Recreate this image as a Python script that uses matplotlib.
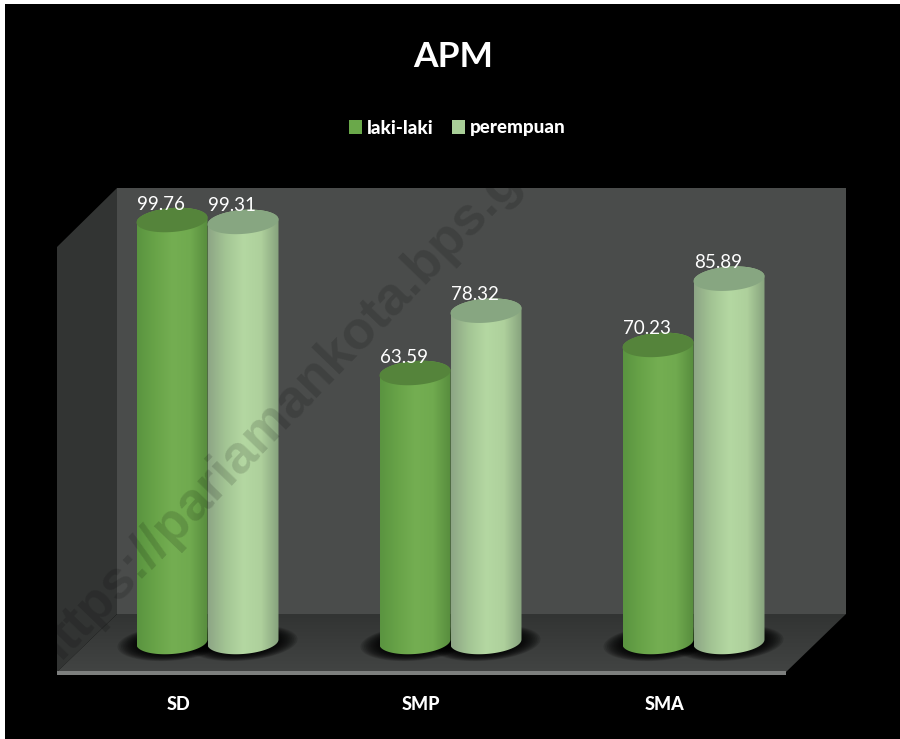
"""APM cylinder chart, black background, fake 3D box drawn by hand."""
import numpy as np
import matplotlib
matplotlib.use("Agg")
import matplotlib.pyplot as plt
from matplotlib.patches import Polygon, Patch, Rectangle
from matplotlib.colors import LinearSegmentedColormap

categories = ["SD", "SMP", "SMA"]
laki = [99.76, 63.59, 70.23]
perempuan = [99.31, 78.32, 85.89]
series_names = ["laki-laki", "perempuan"]
title = "APM"
watermark = "https://pariamankota.bps.go.id"

W, H = 900, 739
FONT = "Lato"
GROUP_PX, ZERO_PX, UNIT_PX = 243.0, 642.0, 4.23   # category spacing, y of value 0, px per unit
X0_PX = 207.5
RX, RY, TILT = 35.5, 12.0, -0.07

fig = plt.figure(figsize=(W / 100, H / 100), dpi=100, facecolor="white")

# value axes: category index on x, percent on y
ax = fig.add_axes([0, 0, 1, 1], zorder=3)
ax.set_xlim(-X0_PX / GROUP_PX, (W - X0_PX) / GROUP_PX)
ax.set_ylim(-(H - ZERO_PX) / UNIT_PX, ZERO_PX / UNIT_PX)
ax.set_axis_off()

# overlay in image pixels for the box and cylinders
px = fig.add_axes([0, 0, 1, 1], zorder=2)
px.set_xlim(0, W); px.set_ylim(H, 0)
px.set_axis_off()


def to_px(x, v):
    xp, yp = ax.transData.transform((x, v))
    return xp, H - yp


def ell(cx, cy, rx=RX, ry=RY, n=80, a=0, b=2 * np.pi):
    t = np.linspace(a, b, n)
    ex = rx * np.cos(t)
    return np.column_stack([cx + ex, cy + ry * np.sin(t) + TILT * ex])


# image has a thin white edge on the left and top
px.add_patch(Rectangle((5, 4), W, H, fc="black", ec="none", zorder=0))

# box: back wall, left wall, floor, front lip
px.add_patch(Polygon([(117, 188), (846, 188), (846, 614), (117, 614)], fc="#4a4c4b", ec="none"))
px.add_patch(Polygon([(57, 247), (117, 188), (117, 614), (57, 672)], fc="#323433", ec="none"))
floor = Polygon([(57, 672), (117, 614), (846, 614), (786, 672)], fc="none", ec="none")
px.add_patch(floor)
cm_floor = LinearSegmentedColormap.from_list("f", ["#323433", "#424443"])
fl = px.imshow(np.linspace(0, 1, 64)[:, None], cmap=cm_floor, extent=[57, 846, 672, 614], aspect="auto", zorder=1)
fl.set_clip_path(floor)
px.add_patch(Polygon([(57, 671), (786, 671), (786, 675), (57, 675)], fc="#7d7f7e", ec="none", zorder=1.5))

cm_laki = LinearSegmentedColormap.from_list("l", ["#5a9440", "#68a348", "#74ae52", "#70aa4f", "#578c3d"])
cm_per = LinearSegmentedColormap.from_list("p", ["#8da585", "#a3c594", "#b4d8a2", "#aed09c", "#86a27d"])
grad = np.linspace(0, 1, 256)[None, :]


def shadow(xc):
    cx, y0 = to_px(xc, 0)
    for d in np.linspace(19, 0, 12):
        s = ell(cx, y0 + 1, RX + d, RY + d * 0.3)
        px.add_patch(Polygon(s, fc="black", ec="none", alpha=0.13, zorder=2))


def cylinder(xc, val, cmap, top_col, z):
    cx, y0 = to_px(xc, 0)
    _, y1 = to_px(xc, val)
    body = np.vstack([ell(cx, y1, a=np.pi, b=2 * np.pi)[:1],
                      ell(cx, y0, a=np.pi, b=0),
                      ell(cx, y1, a=0, b=np.pi * -1)])
    poly = Polygon(body, fc="none", ec="none", zorder=z)
    px.add_patch(poly)
    im = px.imshow(grad, cmap=cmap, extent=[cx - RX, cx + RX, y0 + RY + 5, y1 - RY - 5],
                   aspect="auto", zorder=z)
    im.set_clip_path(poly)
    px.add_patch(Polygon(ell(cx, y1), fc=top_col, ec="none", zorder=z + 0.1))


offs = 35.5 / GROUP_PX
for i in range(len(categories)):
    shadow(i - offs)
    shadow(i + offs)
    cylinder(i - offs, laki[i], cm_laki, "#55843b", 5)
    cylinder(i + offs, perempuan[i], cm_per, "#87a681", 7)
px.set_xlim(0, W); px.set_ylim(H, 0)

# value labels sit a bit left of the cylinder centre
for i, (a, b) in enumerate(zip(laki, perempuan)):
    for xc, v in [(i - offs, a), (i + offs, b)]:
        ax.annotate(f"{v:.2f}", (xc, v), xytext=(-8, 11.5), textcoords="offset points",
                    ha="center", va="center", color="white", fontsize=13.5, family=FONT)

# category labels, shifted with the 3D projection
for i, c in enumerate(categories):
    ax.annotate(c, (i, 0), xytext=(-21, -45), textcoords="offset points", ha="center",
                va="center", color="white", fontsize=13, family=FONT, weight="black")

# watermark
px.text(308, 383, watermark, rotation=46, rotation_mode="anchor", ha="center", va="center",
        fontsize=38.5, family="Liberation Sans", weight="bold", color="black", alpha=0.14, zorder=20)

fig.text(453 / W, 1 - 57 / H, title, ha="center", va="center", color="white",
         fontsize=25.5, family=FONT, weight="bold")

handles = [Patch(fc="#6aa84a", ec="none"), Patch(fc="#a9cf98", ec="none")]
leg = fig.legend(handles, series_names, loc="center", bbox_to_anchor=(457 / W, 1 - 128 / H),
                 ncol=2, frameon=False, handlelength=0.7, handleheight=0.7, handletextpad=0.25,
                 columnspacing=1.0, prop={"family": FONT, "weight": "black", "size": 13.5})
for t in leg.get_texts():
    t.set_color("white")

fig.savefig("out.png", dpi=100, facecolor="white")
